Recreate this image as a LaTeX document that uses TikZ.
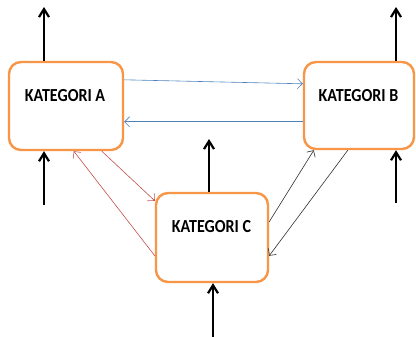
\documentclass[tikz,border=0pt]{standalone}
\usepackage{fontspec}
\setmainfont{Carlito}
\usetikzlibrary{arrows.meta}
\definecolor{boxorange}{HTML}{F79646}
\definecolor{flowblue}{HTML}{4F81BD}
\definecolor{flowred}{HTML}{C0504D}
\definecolor{flowgrey}{HTML}{303030}
\newcommand{\cattitle}[1]{\scalebox{1}[1.15]{#1}}
\tikzset{
  catbox/.style={draw=boxorange, line width=2.4pt, rounded corners=12pt, fill=white,
    inner sep=0pt},
  cattext/.style={font=\fontsize{16}{18}\selectfont\bfseries, inner sep=0pt},
  bigarrow/.style={line width=2.4pt, -{Straight Barb[length=8pt,width=10pt,line width=2.2pt]}},
  thinarrow/.style={line width=0.6pt, -{Straight Barb[length=5pt,width=10pt,line width=0.6pt]}}
}
\begin{document}
\begin{tikzpicture}[x=1pt,y=-1pt]
  \useasboundingbox (0,0) rectangle (416,337);

  % category boxes
  \node[catbox, minimum width=114pt, minimum height=88pt] (a) at (66,106) {};
  \node[catbox, minimum width=110pt, minimum height=87pt] (b) at (359,105.5) {};
  \node[catbox, minimum width=112pt, minimum height=89pt] (c) at (212,237.5) {};

  \node[cattext] (ta) at (65,96) {\cattitle{KATEGORI A}};
  \node[cattext] (tb) at (358.5,96) {\cattitle{KATEGORI B}};
  \node[cattext] (tc) at (211.5,227) {\cattitle{KATEGORI C}};

  % free ends of the vertical arrows
  \coordinate (aout) at (44,7);
  \coordinate (ain)  at (44,205);
  \coordinate (bout) at (396,7);
  \coordinate (bin)  at (396,203);
  \coordinate (cout) at (209,139);
  \coordinate (cin)  at (213,337);

  % vertical in/out arrows
  \draw[bigarrow] (a.north -| aout) -- (aout);
  \draw[bigarrow] (ain) -- (a.south -| ain);
  \draw[bigarrow] (b.north -| bout) -- (bout);
  \draw[bigarrow] (bin) -- (b.south -| bin);
  \draw[bigarrow] (c.north -| cout) -- (cout);
  \draw[bigarrow] (cin) -- (c.south -| cin);

  % A <-> B
  \draw[thinarrow, flowblue] ([yshift=-19pt]a.north east) -- ([yshift=-23pt]b.north west);
  \draw[thinarrow, flowblue] ([yshift=-61pt]b.north west) -- ([yshift=-61pt]a.north east);

  % A <-> C
  \draw[thinarrow, flowred] ([xshift=94pt]a.south west) -- ([yshift=-9pt]c.north west);
  \draw[thinarrow, flowred] ([yshift=-64pt]c.north west) -- ([xshift=66pt]a.south west);

  % C <-> B
  \draw[thinarrow, flowgrey] ([yshift=-30pt]c.north east) -- ([xshift=11pt]b.south west);
  \draw[thinarrow, flowgrey] ([xshift=45pt]b.south west) -- ([yshift=-64pt]c.north east);
\end{tikzpicture}
\end{document}
